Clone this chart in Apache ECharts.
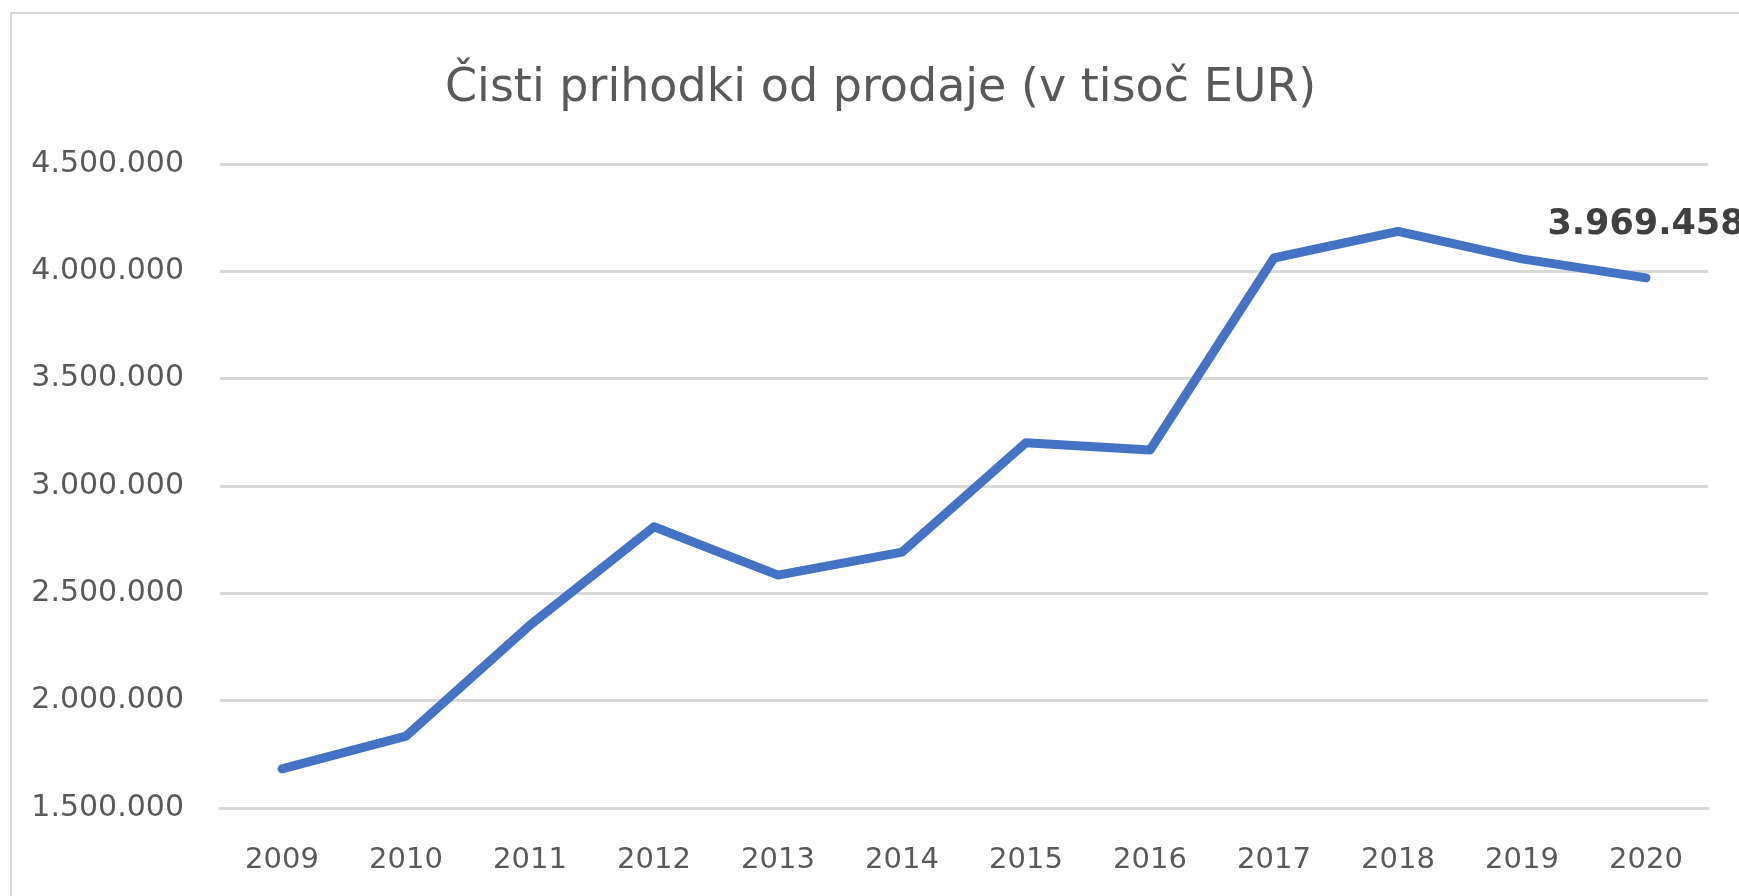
<!DOCTYPE html>
<html>
<head>
<meta charset="utf-8">
<script src="https://cdn.jsdelivr.net/npm/echarts@6/dist/echarts.min.js"></script>
<style>
  html, body { margin: 0; padding: 0; background: #fff; }
  #chart { width: 1739px; height: 896px; }
</style>
</head>
<body>
<div id="chart"></div>
<script>
const titleText = "Čisti prihodki od prodaje (v tisoč EUR)";
const years = ["2009", "2010", "2011", "2012", "2013", "2014", "2015", "2016", "2017", "2018", "2019", "2020"];
const revenue = [1682000, 1835000, 2352000, 2810000, 2585000, 2692000, 3202000, 3168000, 4062000, 4186000, 4058000, 3969458];
const yTicks = [1500000, 2000000, 2500000, 3000000, 3500000, 4000000, 4500000];

const fmt = (v) => String(Math.round(v)).replace(/\B(?=(\d{3})+(?!\d))/g, ".");

const chart = echarts.init(document.getElementById("chart"));

const lastIdx = revenue.length - 1;

chart.setOption({
  animation: false,
  textStyle: { fontFamily: "DejaVu Sans" },
  title: {
    text: titleText,
    left: 440,
    top: 61,
    textStyle: {
      fontFamily: "DejaVu Sans",
      fontSize: 46,
      fontWeight: "normal",
      color: "#595959",
    },
  },
  graphic: [
    {
      type: "rect",
      shape: { x: 11, y: 13, width: 2000, height: 2000 },
      style: { fill: "none", stroke: "#d9d9d9", lineWidth: 2 },
      silent: true,
    },
  ],
  grid: {
    left: 220,
    right: 31,
    top: 164,
    bottom: 88,
  },
  xAxis: {
    type: "category",
    data: years,
    boundaryGap: true,
    axisLine: { show: true, lineStyle: { color: "#d9d9d9", width: 3 } },
    axisTick: { show: false },
    axisLabel: {
      color: "#595959",
      fontSize: 29,
      margin: 38,
    },
  },
  yAxis: {
    type: "value",
    min: yTicks[0],
    max: yTicks[yTicks.length - 1],
    interval: yTicks[1] - yTicks[0],
    axisLine: { show: false },
    axisTick: { show: false },
    splitLine: { lineStyle: { color: "#d9d9d9", width: 3 } },
    axisLabel: {
      color: "#595959",
      fontSize: 30,
      margin: 36,
      formatter: fmt,
    },
  },
  series: [
    {
      type: "line",
      data: revenue.map((v, i) =>
        i === lastIdx
          ? {
              value: v,
              label: {
                show: true,
                position: "top",
                distance: 35,
                formatter: (p) => fmt(p.value),
                fontSize: 35,
                fontWeight: "bold",
                color: "#404040",
              },
            }
          : v
      ),
      symbol: "circle",
      symbolSize: 1,
      showSymbol: true,
      lineStyle: { color: "#4472C4", width: 9, cap: "round", join: "round" },
      itemStyle: { color: "#4472C4" },
    },
  ],
});
</script>
</body>
</html>
